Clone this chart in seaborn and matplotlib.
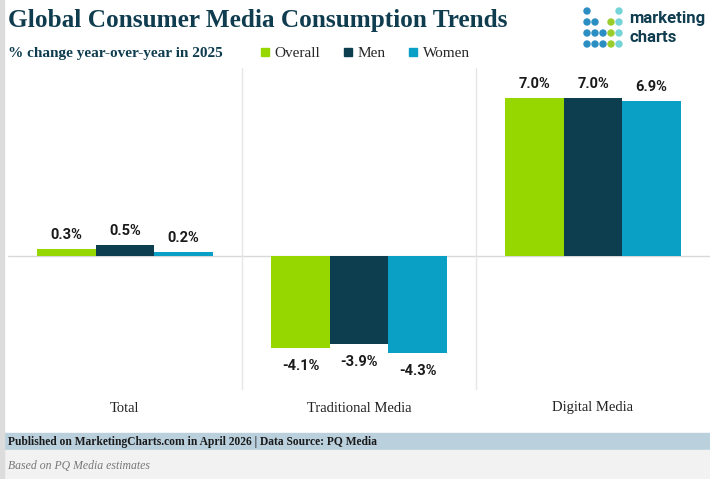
import matplotlib

matplotlib.use("Agg")

import matplotlib.pyplot as plt
import matplotlib.transforms as mtransforms
import pandas as pd
import seaborn as sns
from matplotlib.patches import Ellipse, Rectangle
from matplotlib.lines import Line2D

categories = ["Total", "Traditional Media", "Digital Media"]
series = ["Overall", "Men", "Women"]
overall = [0.3, -4.1, 7.0]
men = [0.5, -3.9, 7.0]
women = [0.2, -4.3, 6.9]

PALETTE = {"Overall": "#97d700", "Men": "#0c3e50", "Women": "#0a9fc4"}
DARK = "#0f3d4f"
SERIF = ["Liberation Serif", "DejaVu Serif"]
SANS = ["Roboto", "DejaVu Sans"]

sns.set_theme(style="white")
plt.rcParams["font.family"] = SERIF

rows = []
for name, vals in zip(series, [overall, men, women]):
    for cat, v in zip(categories, vals):
        rows.append({"category": cat, "series": name, "value": v})
df = pd.DataFrame(rows)

W, H = 710, 479
fig = plt.figure(figsize=(7.10, 4.79), dpi=100)
ax = fig.add_axes([8 / W, 1 - 390 / H, 1 - 8 / W, (390 - 68) / H])

sns.barplot(
    data=df, x="category", y="value", hue="series", order=categories,
    hue_order=series, palette=PALETTE, width=0.75, ax=ax, legend=False,
    saturation=1, errorbar=None, linewidth=0,
)
ax.set_xlim(-0.5, 2.5)
ax.set_ylim(-5.95, 8.35)
ax.axhline(0, color="#d9d9d9", lw=1, zorder=0)
for xb in [0.5, 1.5]:
    ax.axvline(xb, color="#e6e6e6", lw=1, zorder=0)
for s in ax.spines.values():
    s.set_visible(False)
ax.set_yticks([])
ax.set_xticks([])
ax.set_xlabel("")
ax.set_ylabel("")

for container in ax.containers:
    for bar in container:
        h = bar.get_height()
        x = bar.get_x() + bar.get_width() / 2
        off = 5 if h >= 0 else -8
        ax.annotate(f"{h:.1f}%", (x, h), xytext=(0, off), textcoords="offset points",
                    ha="center", va="bottom" if h >= 0 else "top",
                    fontsize=10.5, fontweight="bold", color="#1a1a1a", family=SANS)

trans = mtransforms.blended_transform_factory(ax.transData, fig.transFigure)
for i, cat in enumerate(categories):
    ax.text(i, 1 - 408 / H, cat, transform=trans, ha="center", va="center",
            fontsize=10.5, color="#222222")

# titles
fig.text(0.011, 1 - 21 / H, "Global Consumer Media Consumption Trends", ha="left",
         va="center", fontsize=18.2, fontweight="bold", color=DARK)
fig.text(0.011, 1 - 53 / H, "% change year-over-year in 2025", ha="left", va="center",
         fontsize=11, fontweight="bold", color=DARK)

handles = [Line2D([], [], marker="s", ls="", markersize=6, color=PALETTE[s]) for s in series]
fig.legend(handles, series, loc="center left", bbox_to_anchor=(260 / W, 1 - 53 / H),
           ncol=3, frameon=False, handlelength=0.6, handletextpad=0.35, columnspacing=1.5,
           borderaxespad=0, borderpad=0, prop={"size": 11})

# logo
logo_pattern = [
    "b...t",
    "bb.gt",
    "bbbgt",
    "bbbgt",
]
dot_colors = {"b": "#2b8ec2", "g": "#9acd2c", "t": "#74d4d8"}
for r, row in enumerate(logo_pattern):
    for c, ch in enumerate(row):
        if ch == ".":
            continue
        fig.patches.append(Ellipse(((587 + c * 8) / W, 1 - (11 + r * 11) / H),
                                   6 / W, 6 / H, transform=fig.transFigure,
                                   color=dot_colors[ch]))
fig.text(629 / W, 1 - 18 / H, "marketing", fontsize=12, color=DARK, va="center",
         ha="left", fontweight="bold", family=SANS)
fig.text(629 / W, 1 - 38 / H, "charts", fontsize=12, color=DARK, va="center",
         ha="left", fontweight="bold", family=SANS)

# footer and left border
fig.patches.append(Rectangle((0, 1 - 450 / H), 1, 17 / H, transform=fig.transFigure,
                             color="#bad0dd", zorder=0))
fig.patches.append(Rectangle((0, 0), 1, 29 / H, transform=fig.transFigure,
                             color="#f2f2f2", zorder=0))
fig.patches.append(Rectangle((0, 0), 4 / W, 1, transform=fig.transFigure,
                             color="#dcdcdc", zorder=0))
fig.text(0.011, 1 - 442 / H, "Published on MarketingCharts.com in April 2026 | Data Source: PQ Media",
         fontsize=8.3, fontweight="bold", color="#1a1a1a", va="center", ha="left")
fig.text(0.011, 1 - 466 / H, "Based on PQ Media estimates", fontsize=8.5,
         fontstyle="italic", color="#777777", va="center", ha="left")

fig.savefig("out.png", dpi=100)
